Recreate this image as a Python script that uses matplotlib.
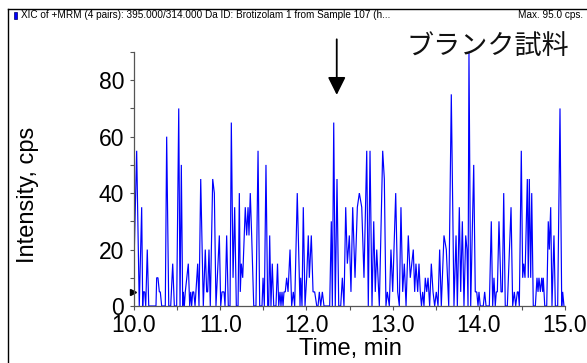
import matplotlib
matplotlib.use("Agg")
import matplotlib.pyplot as plt
from matplotlib.lines import Line2D
from matplotlib.patches import Rectangle
from matplotlib.ticker import MultipleLocator, FormatStrFormatter

# ---- data ----
time_min = [
    10.000, 10.031, 10.050, 10.061, 10.089, 10.101, 10.108, 10.124, 10.136, 10.154,
    10.171, 10.255, 10.263, 10.278, 10.294, 10.305, 10.321, 10.363, 10.379, 10.403,
    10.426, 10.449, 10.468, 10.495, 10.519, 10.534, 10.549, 10.565, 10.572, 10.584,
    10.595, 10.630, 10.646, 10.658, 10.669, 10.681, 10.693, 10.708, 10.739, 10.754,
    10.774, 10.804, 10.827, 10.843, 10.855, 10.870, 10.885, 10.913, 10.932, 10.951,
    10.990, 11.006, 11.021, 11.044, 11.056, 11.075, 11.094, 11.114, 11.129, 11.149,
    11.168, 11.187, 11.207, 11.222, 11.233, 11.245, 11.261, 11.291, 11.307, 11.323,
    11.334, 11.349, 11.365, 11.389, 11.415, 11.439, 11.458, 11.485, 11.497, 11.512,
    11.531, 11.551, 11.563, 11.574, 11.589, 11.604, 11.621, 11.647, 11.665, 11.679,
    11.694, 11.705, 11.717, 11.729, 11.740, 11.755, 11.771, 11.787, 11.810, 11.829,
    11.848, 11.864, 11.894, 11.926, 11.934, 11.949, 11.964, 11.984, 12.003, 12.022,
    12.034, 12.057, 12.077, 12.096, 12.120, 12.135, 12.150, 12.166, 12.185, 12.204,
    12.270, 12.289, 12.301, 12.317, 12.335, 12.355, 12.375, 12.398, 12.417, 12.436,
    12.456, 12.475, 12.498, 12.517, 12.537, 12.564, 12.591, 12.614, 12.642, 12.668,
    12.700, 12.718, 12.738, 12.761, 12.781, 12.799, 12.816, 12.846, 12.885, 12.904,
    12.923, 12.939, 12.962, 12.981, 13.001, 13.036, 13.059, 13.078, 13.097, 13.117,
    13.136, 13.156, 13.182, 13.205, 13.240, 13.256, 13.271, 13.291, 13.306, 13.321,
    13.335, 13.349, 13.364, 13.379, 13.396, 13.411, 13.430, 13.449, 13.469, 13.488,
    13.507, 13.527, 13.546, 13.565, 13.596, 13.623, 13.651, 13.681, 13.712, 13.736,
    13.751, 13.774, 13.790, 13.809, 13.828, 13.848, 13.863, 13.875, 13.886, 13.906,
    13.941, 13.959, 13.976, 13.991, 14.002, 14.017, 14.052, 14.068, 14.084, 14.122,
    14.145, 14.161, 14.176, 14.191, 14.203, 14.215, 14.234, 14.258, 14.273, 14.289,
    14.307, 14.331, 14.374, 14.393, 14.412, 14.428, 14.447, 14.458, 14.470, 14.493,
    14.509, 14.521, 14.536, 14.563, 14.574, 14.586, 14.602, 14.614, 14.632, 14.656,
    14.675, 14.687, 14.698, 14.714, 14.730, 14.741, 14.748, 14.765, 14.788, 14.806,
    14.818, 14.834, 14.849, 14.872, 14.888, 14.915, 14.942, 14.962, 14.973, 14.988,
]
intensity_cps = [
    15, 55, 20, 0, 35, 0, 5, 5, 0, 20,
    0, 0, 10, 10, 5, 5, 0, 0, 60, 0,
    0, 15, 0, 0, 70, 0, 50, 0, 5, 0,
    5, 15, 0, 5, 0, 5, 5, 0, 15, 0,
    45, 0, 20, 5, 5, 20, 0, 45, 40, 0,
    25, 0, 5, 5, 0, 25, 0, 0, 65, 10,
    35, 0, 0, 40, 5, 15, 10, 35, 25, 35,
    25, 40, 25, 0, 0, 55, 0, 0, 10, 0,
    50, 0, 0, 25, 0, 15, 0, 0, 15, 0,
    5, 0, 5, 0, 5, 5, 10, 5, 20, 0,
    5, 0, 40, 0, 10, 0, 35, 0, 10, 25,
    10, 25, 5, 5, 0, 0, 5, 0, 5, 0,
    0, 30, 0, 65, 0, 45, 0, 0, 10, 0,
    35, 15, 25, 5, 35, 10, 35, 40, 35, 10,
    55, 0, 55, 0, 30, 5, 20, 0, 55, 45,
    0, 5, 0, 20, 5, 40, 5, 0, 35, 5,
    15, 0, 25, 10, 20, 5, 15, 5, 15, 5,
    0, 5, 0, 10, 5, 10, 0, 15, 5, 0,
    5, 0, 20, 0, 25, 20, 0, 75, 0, 25,
    0, 35, 5, 30, 0, 25, 20, 0, 90, 0,
    50, 5, 5, 0, 5, 0, 0, 5, 0, 0,
    30, 0, 10, 0, 5, 5, 30, 5, 5, 40,
    0, 0, 35, 0, 5, 0, 5, 5, 0, 55,
    10, 15, 10, 45, 10, 45, 10, 40, 0, 0,
    10, 5, 10, 5, 10, 5, 10, 0, 0, 30,
    20, 35, 0, 25, 0, 0, 70, 0, 5, 0,
]
x_ticks = [10.0, 11.0, 12.0, 13.0, 14.0, 15.0]
y_ticks = [0, 20, 40, 60, 80]
marker_time = 12.352
header_left = "XIC of +MRM (4 pairs): 395.000/314.000 Da ID: Brotizolam 1 from Sample 107 (h..."
header_right = "Max. 95.0 cps."
annotation_jp = "ブランク試料"

W, H = 587, 363
fig = plt.figure(figsize=(W / 100, H / 100), dpi=100)
fig.patch.set_facecolor("white")

SANS = ["Liberation Sans", "DejaVu Sans"]

ax = fig.add_axes([134 / W, 57 / H, 431 / W, 254 / H])
ax.plot(time_min, intensity_cps, color="#0000ff", lw=0.85, solid_joinstyle="miter")
ax.set_xlim(10, 15)
ax.set_ylim(0, 90)
for s in ("top", "right"):
    ax.spines[s].set_visible(False)
for s in ("left", "bottom"):
    ax.spines[s].set_color("#555555")
    ax.spines[s].set_linewidth(0.9)

ax.set_xticks(x_ticks)
ax.set_yticks(y_ticks)
ax.xaxis.set_minor_locator(MultipleLocator(0.5))
ax.yaxis.set_minor_locator(MultipleLocator(10))
ax.xaxis.set_major_formatter(FormatStrFormatter("%.1f"))
ax.tick_params(which="both", direction="out", length=3, width=0.8, color="#555555")
ax.tick_params(axis="x", pad=2.5)
ax.tick_params(axis="y", pad=4)
for lab in ax.get_xticklabels() + ax.get_yticklabels():
    lab.set_family(SANS)
    lab.set_fontsize(16.5)
    lab.set_color("black")

# small marker on y axis
ax.plot([-0.003], [5], marker=">", color="black", ms=4, transform=ax.get_yaxis_transform(),
        clip_on=False)

# arrow
ax.annotate("", xy=(marker_time, 74.8), xytext=(marker_time, 94.5),
            arrowprops=dict(arrowstyle="-|>", mutation_scale=27, lw=1.3, color="black",
                            shrinkA=0, shrinkB=0),
            annotation_clip=False)

# axis labels
fig.text(28 / W, 1 - 195 / H, "Intensity, cps", rotation=90, ha="center", va="center",
         fontsize=17, family=SANS)
fig.text(350 / W, 1 - 355 / H, "Time, min", ha="center", va="baseline",
         fontsize=17, family=SANS)

# frame
fig.add_artist(Line2D([8 / W, 8 / W], [0, 1 - 9 / H], transform=fig.transFigure, color="black", lw=1))
fig.add_artist(Line2D([8 / W, 1], [1 - 9 / H, 1 - 9 / H], transform=fig.transFigure, color="black", lw=1))
fig.add_artist(Rectangle((13.5 / W, 1 - 18.5 / H), 3 / W, 7 / H, transform=fig.transFigure,
                         facecolor="#0000ff", edgecolor="#000060", lw=0.5))
fig.text(21 / W, 1 - 14.5 / H, header_left, ha="left", va="center", fontsize=7.2,
         family=SANS)
fig.text(583 / W, 1 - 14.5 / H, header_right, ha="right", va="center", fontsize=7.2,
         family=SANS)

fig.text(406 / W, 1 - 46 / H, annotation_jp, ha="left", va="center", fontsize=19.5,
         family=["Noto Sans CJK JP", "DejaVu Sans"], color="#111111")

fig.savefig("out.png", dpi=100, facecolor="white")
